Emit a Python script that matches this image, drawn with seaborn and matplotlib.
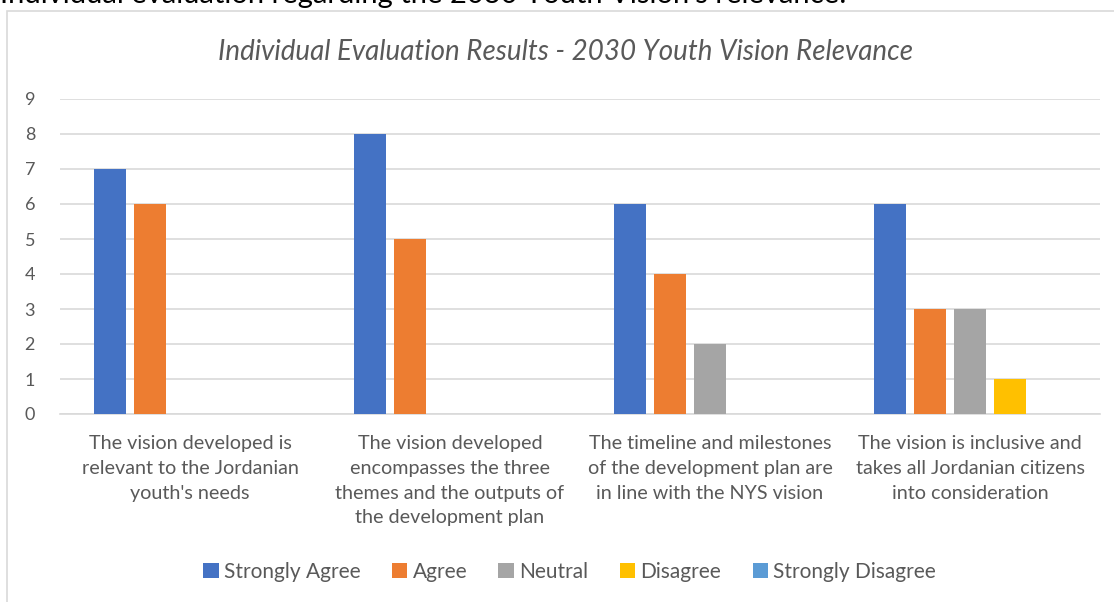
import numpy as np
import pandas as pd
import matplotlib
matplotlib.use("Agg")
import matplotlib.pyplot as plt
from matplotlib.patches import Rectangle
import seaborn as sns

statements = ["The vision developed is\nrelevant to the Jordanian\nyouth's needs",
              "The vision developed\nencompasses the three\nthemes and the outputs of\nthe development plan",
              "The timeline and milestones\nof the development plan are\nin line with the NYS vision",
              "The vision is inclusive and\ntakes all Jordanian citizens\ninto consideration"]
responses = ["Strongly Agree", "Agree", "Neutral", "Disagree", "Strongly Disagree"]
strongly_agree = [7, 8, 6, 6]
agree = [6, 5, 4, 3]
neutral = [0, 0, 2, 3]
disagree = [0, 0, 0, 1]
strongly_disagree = [0, 0, 0, 0]
colors = ["#4472C4", "#ED7D31", "#A5A5A5", "#FFC000", "#5B9BD5"]

series = [strongly_agree, agree, neutral, disagree, strongly_disagree]
rows = []
for resp, vals in zip(responses, series):
    for st, v in zip(statements, vals):
        rows.append({"statement": st, "response": resp, "count": v})
df = pd.DataFrame(rows)

sns.set_style("white")
plt.rcParams['font.family'] = ['Lato', 'DejaVu Sans']
grey = "#595959"

fig = plt.figure(figsize=(11.14, 6.02), dpi=100)
W, H = 1114, 602
ax = fig.add_axes([60 / W, (H - 414) / H, 1040 / W, 315 / H])

sns.barplot(data=df, x="statement", y="count", hue="response", hue_order=responses,
            palette=colors, saturation=1, width=0.77, gap=0.2, linewidth=0,
            ax=ax, legend=True, zorder=3)

ax.set_ylim(0, 9)
ax.set_yticks(range(10))
ax.set_xlim(-0.5, 3.5)
ax.grid(axis="y", color="#D9D9D9", linewidth=1.2, zorder=0)
for s in ["top", "right", "left"]:
    ax.spines[s].set_visible(False)
ax.spines["bottom"].set_color("#D9D9D9")
ax.spines["bottom"].set_linewidth(1.2)
ax.set_xlabel("")
ax.set_ylabel("")
ax.tick_params(axis="y", length=0, labelsize=13, labelcolor=grey, pad=18)
ax.tick_params(axis="x", length=0, labelsize=14.2, labelcolor=grey, pad=15)
for lab in ax.get_xticklabels():
    lab.set_linespacing(1.56)

ax.set_title("Individual Evaluation Results - 2030 Youth Vision Relevance",
             fontsize=20, style="italic", color=grey, pad=28, x=0.4865)

leg = ax.legend(loc="center", bbox_to_anchor=(0.49, (H - 572 - 188) / 315.0), ncol=5,
                frameon=False, fontsize=15, handlelength=0.75, handleheight=0.75,
                handletextpad=0.25, columnspacing=1.5)
for t in leg.get_texts():
    t.set_color(grey)

# chart border and cut-off heading above it
fig.patches.append(Rectangle((7 / W, -0.05), 1.2, (H - 11) / H + 0.05, transform=fig.transFigure,
                             fill=False, edgecolor="#D9D9D9", linewidth=1.2))
fig.text(0.0, 1 - 3 / H, "Individual evaluation regarding the 2030 Youth Vision's relevance:",
         fontsize=21, color="black", va="baseline", ha="left")

fig.savefig("out.png", dpi=100)
